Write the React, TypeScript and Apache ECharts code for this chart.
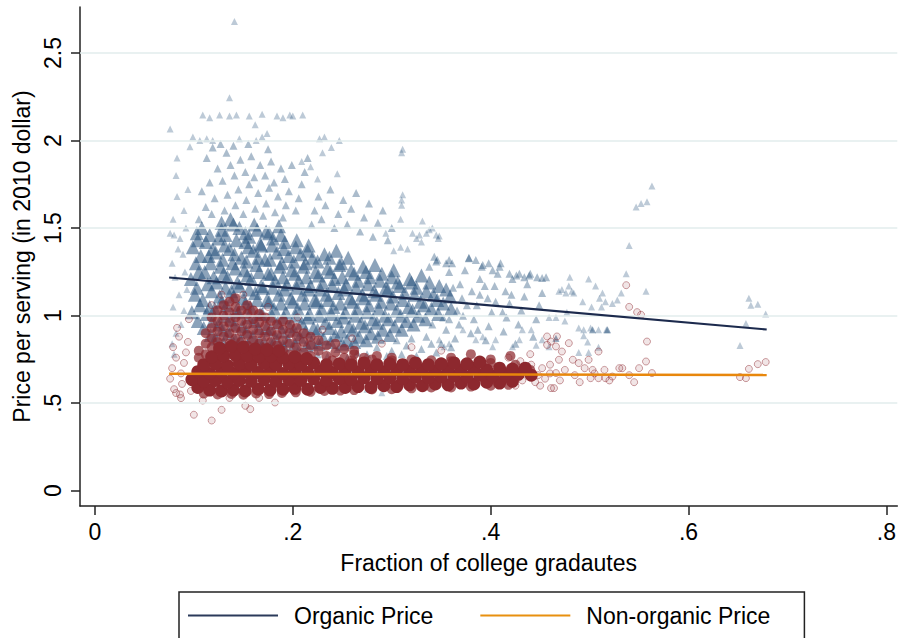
import React, { useEffect, useRef } from "react";
import * as echarts from "echarts";

// ---- Data ----
const xTicks = [0, 0.2, 0.4, 0.6, 0.8];
const yTicks = [0, 0.5, 1, 1.5, 2, 2.5];
const gridValues = [0.5, 1, 1.5, 2, 2.5];

const organicFit = [[0.075, 1.218], [0.679, 0.921]];
const nonOrganicFit = [[0.075, 0.668], [0.679, 0.661]];

// organic (triangles): dense core, first layer
const organicCore = [
  [0.098,1.02],[0.101,1.12],[0.097,1.21],[0.102,1.30],[0.099,1.39],[0.103,1.47],
  [0.110,0.93],[0.113,1.01],[0.109,1.09],[0.114,1.18],[0.111,1.25],[0.115,1.34],[0.112,1.42],[0.108,1.50],
  [0.122,0.87],[0.125,0.95],[0.121,1.04],[0.126,1.11],[0.123,1.19],[0.127,1.28],[0.122,1.36],[0.125,1.44],[0.128,1.53],
  [0.135,0.90],[0.137,0.98],[0.133,1.06],[0.138,1.14],[0.134,1.22],[0.139,1.30],[0.136,1.38],[0.132,1.46],[0.137,1.55],
  [0.147,0.86],[0.149,0.94],[0.145,1.02],[0.150,1.10],[0.146,1.17],[0.151,1.26],[0.148,1.33],[0.152,1.42],[0.146,1.50],
  [0.159,0.88],[0.161,0.97],[0.157,1.05],[0.162,1.13],[0.158,1.21],[0.163,1.29],[0.160,1.37],[0.156,1.45],[0.161,1.52],
  [0.171,0.85],[0.173,0.93],[0.169,1.01],[0.174,1.09],[0.170,1.16],[0.175,1.24],[0.172,1.32],[0.168,1.40],[0.173,1.48],
  [0.183,0.87],[0.185,0.96],[0.181,1.04],[0.186,1.12],[0.182,1.20],[0.187,1.28],[0.184,1.36],[0.180,1.44],[0.186,1.51],
  [0.195,0.86],[0.197,0.94],[0.193,1.02],[0.198,1.10],[0.194,1.18],[0.199,1.26],[0.196,1.34],[0.192,1.42],
  [0.207,0.88],[0.209,0.96],[0.205,1.04],[0.210,1.12],[0.206,1.20],[0.211,1.28],[0.208,1.35],[0.204,1.43],
  [0.219,0.85],[0.221,0.93],[0.217,1.01],[0.222,1.09],[0.218,1.17],[0.223,1.25],[0.220,1.33],[0.216,1.40],
  [0.231,0.87],[0.233,0.96],[0.229,1.04],[0.234,1.12],[0.230,1.19],[0.235,1.27],[0.232,1.35],
  [0.243,0.89],[0.245,0.97],[0.241,1.05],[0.246,1.13],[0.242,1.21],[0.247,1.29],[0.244,1.37],
  [0.255,0.86],[0.257,0.94],[0.253,1.02],[0.258,1.10],[0.254,1.18],[0.259,1.26],[0.256,1.33],
  [0.267,0.88],[0.269,0.96],[0.265,1.04],[0.270,1.12],[0.266,1.20],[0.271,1.28],
  [0.279,0.90],[0.281,0.98],[0.277,1.06],[0.282,1.14],[0.278,1.22],[0.283,1.29],
  [0.291,0.92],[0.293,1.00],[0.289,1.08],[0.294,1.16],[0.290,1.24],
  [0.303,0.94],[0.305,1.03],[0.301,1.11],[0.306,1.19],[0.302,1.26],
  [0.315,0.97],[0.317,1.05],[0.313,1.13],[0.318,1.21],
  [0.327,1.00],[0.329,1.08],[0.325,1.16],[0.330,1.23],
  [0.340,1.04],[0.342,1.12],[0.338,1.19],
  [0.352,1.07],[0.355,1.15]
];

// organic: dense core, second (staggered) layer
const organicCore2 = [
  [0.104,0.97],[0.106,1.06],[0.103,1.16],[0.105,1.25],[0.107,1.34],[0.104,1.43],
  [0.117,0.89],[0.119,0.97],[0.116,1.05],[0.118,1.14],[0.120,1.22],[0.117,1.30],[0.119,1.38],[0.116,1.46],
  [0.130,0.84],[0.129,0.92],[0.131,1.00],[0.128,1.08],[0.132,1.16],[0.130,1.24],[0.129,1.32],[0.131,1.40],[0.128,1.49],
  [0.142,0.86],[0.141,0.95],[0.143,1.03],[0.140,1.11],[0.144,1.19],[0.142,1.27],[0.141,1.35],[0.143,1.43],[0.140,1.52],
  [0.154,0.83],[0.153,0.91],[0.155,0.99],[0.152,1.07],[0.156,1.15],[0.154,1.23],[0.153,1.31],[0.155,1.39],[0.152,1.47],
  [0.166,0.85],[0.165,0.93],[0.167,1.01],[0.164,1.09],[0.168,1.17],[0.166,1.25],[0.165,1.33],[0.167,1.41],[0.164,1.49],
  [0.178,0.84],[0.177,0.92],[0.179,1.00],[0.176,1.08],[0.180,1.16],[0.178,1.24],[0.177,1.32],[0.179,1.40],[0.176,1.47],
  [0.190,0.83],[0.189,0.91],[0.191,0.99],[0.188,1.07],[0.192,1.15],[0.190,1.22],[0.189,1.30],[0.191,1.38],[0.188,1.46],
  [0.202,0.84],[0.201,0.92],[0.203,1.00],[0.200,1.08],[0.204,1.16],[0.202,1.24],[0.201,1.31],[0.203,1.39],
  [0.214,0.83],[0.213,0.91],[0.215,0.99],[0.212,1.07],[0.216,1.15],[0.214,1.22],[0.213,1.30],[0.215,1.37],
  [0.226,0.84],[0.225,0.92],[0.227,1.00],[0.224,1.08],[0.228,1.15],[0.226,1.23],[0.225,1.31],
  [0.238,0.85],[0.237,0.93],[0.239,1.01],[0.236,1.09],[0.240,1.17],[0.238,1.25],[0.237,1.33],
  [0.250,0.84],[0.249,0.91],[0.251,0.99],[0.248,1.07],[0.252,1.15],[0.250,1.22],[0.249,1.30],
  [0.262,0.85],[0.261,0.92],[0.263,1.00],[0.260,1.08],[0.264,1.16],[0.262,1.24],
  [0.274,0.86],[0.273,0.94],[0.275,1.02],[0.272,1.10],[0.276,1.18],[0.274,1.25],
  [0.286,0.88],[0.285,0.96],[0.287,1.04],[0.284,1.12],[0.288,1.20],
  [0.298,0.89],[0.297,0.98],[0.299,1.07],[0.296,1.15],[0.300,1.22],
  [0.310,0.92],[0.309,1.00],[0.311,1.09],[0.308,1.17],
  [0.322,0.95],[0.321,1.03],[0.323,1.12],[0.320,1.19],
  [0.334,0.98],[0.333,1.06],[0.335,1.14],
  [0.347,1.01],[0.346,1.09],[0.348,1.17],
  [0.360,1.04],[0.359,1.11]
];

// organic: medium-density zones
const organicMid = [
  [0.105,1.55],[0.112,1.62],[0.108,1.71],[0.118,1.58],[0.121,1.67],[0.116,1.76],[0.124,1.84],[0.113,1.90],[0.119,1.96],[0.127,1.98],
  [0.131,1.60],[0.134,1.69],[0.129,1.77],[0.137,1.86],[0.133,1.93],[0.140,1.97],[0.142,1.63],[0.145,1.72],[0.141,1.80],[0.147,1.89],
  [0.150,1.58],[0.153,1.66],[0.156,1.75],[0.152,1.82],[0.158,1.91],[0.155,1.98],[0.162,1.61],[0.165,1.70],[0.161,1.79],[0.167,1.86],
  [0.170,1.57],[0.173,1.64],[0.176,1.73],[0.172,1.80],[0.178,1.88],[0.175,1.95],[0.182,1.59],[0.185,1.68],[0.181,1.76],[0.188,1.84],
  [0.190,1.56],[0.193,1.63],[0.196,1.71],[0.192,1.78],[0.199,1.86],[0.203,1.60],[0.206,1.67],[0.209,1.75],[0.212,1.82],[0.215,1.90],
  [0.219,1.52],[0.222,1.60],[0.226,1.68],[0.229,1.55],[0.233,1.63],[0.238,1.72],[0.242,1.50],[0.246,1.58],[0.251,1.66],[0.255,1.52],
  [0.259,1.61],[0.264,1.70],[0.268,1.48],[0.272,1.56],[0.277,1.64],[0.281,1.45],[0.286,1.53],[0.291,1.60],[0.296,1.43],[0.300,1.50],
  [0.335,0.88],[0.341,0.95],[0.338,1.28],[0.346,1.32],[0.350,0.84],[0.355,0.92],[0.352,0.99],[0.358,1.25],[0.361,1.30],[0.364,0.87],
  [0.368,0.95],[0.366,1.03],[0.371,1.10],[0.369,1.18],[0.374,1.26],[0.378,1.33],[0.380,0.90],[0.383,0.98],[0.386,1.06],[0.381,1.14],
  [0.389,1.21],[0.392,1.29],[0.395,0.86],[0.398,0.94],[0.401,1.02],[0.397,1.10],[0.404,1.17],[0.407,1.24],[0.410,1.30],[0.413,0.91],
  [0.416,0.99],[0.419,1.07],[0.415,1.14],[0.422,1.21],[0.425,0.84],[0.428,0.95],[0.431,1.03],[0.434,1.11],[0.437,1.18],[0.440,1.24],
  [0.443,0.88],[0.446,0.98],[0.449,1.06],[0.452,1.13],[0.456,1.22],
  [0.205,0.80],[0.225,0.78],[0.245,0.81],[0.265,0.79],[0.285,0.82],[0.300,0.80],[0.315,0.83],[0.330,0.81],[0.345,0.79],[0.360,0.82],
  [0.215,0.76],[0.235,0.77],[0.255,0.76],[0.275,0.78],[0.295,0.77],[0.310,0.78],[0.325,0.77],[0.340,0.84],[0.320,0.87],[0.305,0.86],
  [0.378,1.328],[0.385,1.318],[0.398,1.30],[0.391,1.28],[0.409,1.28],[0.402,1.26],[0.419,1.24],[0.358,1.318],[0.355,1.30],[0.343,1.337],
  [0.345,1.31],[0.447,1.22],[0.452,1.215],[0.439,1.23],[0.434,1.22],[0.429,1.24],[0.426,1.23],
  [0.372,1.00],[0.389,1.12],[0.405,1.08],[0.362,1.16],[0.394,1.17],[0.412,1.02],[0.376,1.06],[0.358,0.98],[0.387,0.92],[0.421,1.12]
];

// organic: sparse outer points
const organicSparse = [
  [0.459,0.99],[0.466,0.99],[0.469,1.14],[0.472,1.15],[0.476,1.13],[0.477,1.02],[0.479,1.17],[0.480,1.22],[0.482,1.14],[0.484,1.13],
  [0.466,0.87],[0.475,0.97],[0.489,0.79],[0.493,1.08],[0.494,0.92],[0.498,0.85],[0.499,1.21],[0.501,0.93],[0.502,1.05],[0.503,0.92],
  [0.506,1.17],[0.509,0.82],[0.510,1.10],[0.512,1.05],[0.513,1.13],[0.516,1.08],[0.517,0.92],[0.518,0.92],[0.523,1.07],[0.528,1.09],
  [0.532,1.13],[0.537,1.24],[0.540,1.40],[0.547,1.62],[0.552,1.64],[0.558,1.65],[0.563,1.74],[0.557,1.14],[0.499,0.79],[0.489,0.93],
  [0.652,0.83],[0.658,0.955],[0.661,1.10],[0.663,1.06],[0.670,1.065],[0.678,1.01],
  [0.141,2.68],[0.136,2.245],[0.076,2.066],
  [0.109,2.146],[0.116,2.13],[0.126,2.146],[0.136,2.14],[0.143,2.146],[0.156,2.14],[0.169,2.15],[0.184,2.14],[0.190,2.13],[0.197,2.146],
  [0.200,2.14],[0.210,2.146],[0.162,2.09],[0.174,2.04],
  [0.099,2.02],[0.106,2.00],[0.113,2.01],[0.119,2.00],[0.146,2.01],[0.163,2.00],[0.169,2.02],[0.227,2.01],[0.232,2.02],[0.247,2.00],
  [0.239,1.96],[0.311,1.95],[0.310,1.93],[0.310,1.63],[0.309,1.55],[0.245,1.81],[0.209,1.88],[0.218,1.85],[0.225,1.78],[0.230,1.93],
  [0.311,1.69],[0.310,1.66],[0.331,1.54],[0.321,1.47],[0.328,1.46],[0.338,1.49],[0.341,1.50],[0.345,1.46],[0.348,1.455],[0.330,1.42],
  [0.302,1.37],[0.309,1.39],[0.316,1.38],[0.294,1.47],[0.325,1.44],[0.335,1.47],[0.347,1.44],
  [0.076,1.47],[0.079,1.55],[0.082,1.80],[0.083,1.90],[0.083,1.68],[0.080,1.46],[0.086,1.44],[0.084,1.38],[0.078,1.30],[0.081,1.22],
  [0.085,1.12],[0.079,1.05],[0.087,0.95],[0.082,0.90],[0.080,0.78],[0.078,0.84],[0.090,1.60],[0.092,1.50],[0.094,1.72],[0.096,1.965],
  [0.089,1.35],[0.091,1.25],[0.093,1.15],[0.090,1.03],
  [0.275,0.58],[0.290,0.56],
  [0.503,0.919],[0.509,0.919],[0.518,0.919],[0.494,0.885],[0.466,0.871],[0.459,0.823],[0.452,0.862],[0.446,0.831],[0.441,0.919],[0.432,0.919],
  [0.429,0.862],[0.422,0.823],[0.405,0.862],[0.402,0.823],[0.392,0.879],[0.385,0.862],[0.372,0.919],[0.358,0.84],[0.353,0.823],[0.348,0.862]
];

// non-organic (circles): dense band
const nonOrganicCore = [
  [0.104,0.59],[0.116,0.575],[0.128,0.57],[0.140,0.575],[0.152,0.57],[0.165,0.58],[0.177,0.575],[0.190,0.58],[0.202,0.585],[0.215,0.58],
  [0.228,0.59],[0.240,0.585],[0.253,0.59],[0.266,0.595],[0.279,0.59],[0.292,0.60],[0.305,0.595],[0.318,0.605],[0.331,0.60],[0.344,0.61],
  [0.357,0.605],[0.370,0.615],[0.383,0.61],[0.396,0.62],[0.409,0.615],[0.422,0.625],
  [0.098,0.635],[0.110,0.625],[0.122,0.63],[0.134,0.62],[0.146,0.63],[0.158,0.625],[0.171,0.635],[0.183,0.625],[0.196,0.635],[0.208,0.63],
  [0.221,0.64],[0.234,0.63],[0.247,0.64],[0.259,0.635],[0.272,0.645],[0.285,0.64],[0.298,0.645],[0.311,0.64],[0.324,0.65],[0.337,0.645],
  [0.350,0.65],[0.363,0.655],[0.376,0.65],[0.389,0.66],[0.402,0.655],[0.415,0.66],[0.428,0.665],[0.441,0.66],
  [0.104,0.68],[0.116,0.67],[0.128,0.675],[0.140,0.67],[0.152,0.68],[0.165,0.675],[0.177,0.68],[0.190,0.67],[0.202,0.68],[0.215,0.675],
  [0.228,0.685],[0.240,0.675],[0.253,0.685],[0.266,0.68],[0.279,0.69],[0.292,0.68],[0.305,0.69],[0.318,0.685],[0.331,0.69],[0.344,0.685],
  [0.357,0.695],[0.370,0.69],[0.383,0.70],[0.396,0.69],[0.409,0.70],[0.422,0.695],[0.435,0.70],
  [0.110,0.72],[0.122,0.725],[0.134,0.715],[0.146,0.725],[0.158,0.72],[0.171,0.73],[0.183,0.72],[0.196,0.725],[0.208,0.72],[0.221,0.73],
  [0.234,0.72],[0.247,0.725],[0.259,0.72],[0.272,0.73],[0.285,0.72],[0.298,0.725],[0.311,0.72],[0.324,0.73],[0.337,0.72],[0.350,0.725],
  [0.363,0.73],[0.376,0.725],[0.389,0.735],
  [0.118,0.765],[0.130,0.77],[0.142,0.775],[0.154,0.77],[0.166,0.765],[0.178,0.77],[0.190,0.76],[0.202,0.765],[0.214,0.755],
  [0.126,0.815],[0.138,0.825],[0.150,0.82],[0.162,0.81],[0.174,0.805],[0.186,0.80]
];

// non-organic: the cloud above the band
const nonOrganicMid = [
  [0.105,0.76],[0.105,0.80],[0.112,0.78],[0.112,0.84],[0.112,0.90],
  [0.118,0.77],[0.118,0.82],[0.118,0.87],[0.118,0.93],[0.118,0.99],
  [0.124,0.79],[0.124,0.85],[0.124,0.91],[0.124,0.97],[0.124,1.03],
  [0.130,0.76],[0.130,0.81],[0.130,0.88],[0.130,0.94],[0.130,1.00],[0.130,1.06],
  [0.136,0.78],[0.136,0.84],[0.136,0.90],[0.136,0.96],[0.136,1.02],[0.136,1.08],
  [0.142,0.76],[0.142,0.82],[0.142,0.87],[0.142,0.93],[0.142,0.99],[0.142,1.05],[0.142,1.10],
  [0.148,0.79],[0.148,0.85],[0.148,0.91],[0.148,0.97],[0.148,1.03],
  [0.154,0.77],[0.154,0.83],[0.154,0.89],[0.154,0.95],[0.154,1.01],[0.154,1.06],
  [0.160,0.80],[0.160,0.86],[0.160,0.92],[0.160,0.98],[0.160,1.03],
  [0.166,0.78],[0.166,0.84],[0.166,0.90],[0.166,0.96],[0.166,1.01],
  [0.172,0.76],[0.172,0.82],[0.172,0.88],[0.172,0.94],[0.172,0.99],
  [0.178,0.79],[0.178,0.85],[0.178,0.91],[0.178,0.97],
  [0.184,0.77],[0.184,0.83],[0.184,0.89],[0.184,0.95],
  [0.190,0.80],[0.190,0.86],[0.190,0.92],[0.190,0.97],
  [0.197,0.78],[0.197,0.84],[0.197,0.90],[0.197,0.95],
  [0.204,0.76],[0.204,0.82],[0.204,0.88],[0.204,0.93],
  [0.211,0.79],[0.211,0.85],[0.211,0.90],
  [0.218,0.77],[0.218,0.83],[0.218,0.88],
  [0.226,0.80],[0.226,0.86],[0.234,0.77],[0.234,0.83],[0.243,0.79],[0.243,0.84],
  [0.252,0.76],[0.252,0.81],[0.262,0.78],[0.262,0.80],[0.272,0.76],[0.285,0.77],[0.300,0.76],
  [0.360,0.76],[0.380,0.78],[0.400,0.75],[0.420,0.77],
  [0.110,0.555],[0.124,0.55],[0.138,0.553],[0.150,0.548],[0.163,0.556],[0.176,0.552],[0.189,0.558],[0.203,0.562],[0.218,0.565],[0.232,0.57],
  [0.248,0.572],[0.262,0.575],[0.280,0.578],[0.300,0.58],[0.320,0.585],[0.340,0.59],[0.360,0.59],[0.380,0.595],[0.400,0.60],[0.418,0.605],
  [0.240,0.745],[0.260,0.745],[0.280,0.75],[0.300,0.745],[0.320,0.75],[0.340,0.745],[0.360,0.74],[0.400,0.73],[0.425,0.72],[0.440,0.69]
];

// non-organic: sparse outer points
const nonOrganicSparse = [
  [0.076,0.64],[0.078,0.70],[0.080,0.58],[0.082,0.76],[0.079,0.82],[0.085,0.88],[0.083,0.93],[0.088,0.61],[0.087,0.67],[0.090,0.73],
  [0.092,0.79],[0.094,0.85],[0.097,0.57],[0.086,0.55],[0.095,0.98],
  [0.100,0.434],[0.118,0.401],[0.128,0.462],[0.152,0.485],[0.157,0.466],[0.109,0.515],[0.087,0.529],[0.082,0.558],[0.182,0.504],
  [0.136,0.53],[0.166,0.53],
  [0.537,1.174],[0.540,1.05],[0.548,1.02],[0.552,1.005],[0.558,0.852],[0.557,0.738],[0.563,0.672],
  [0.652,0.649],[0.658,0.643],[0.661,0.696],[0.670,0.723],[0.678,0.735],
  [0.509,0.795],[0.499,0.748],[0.503,0.69],[0.509,0.643],[0.523,0.652],[0.530,0.70],[0.533,0.70],[0.516,0.643],[0.501,0.643],[0.489,0.729],
  [0.483,0.748],[0.479,0.843],[0.472,0.795],[0.469,0.748],[0.466,0.672],[0.464,0.586],[0.461,0.586],
  [0.457,0.881],[0.461,0.852],[0.466,0.824],[0.467,0.881],[0.457,0.833],
  [0.425,0.60],[0.432,0.63],[0.438,0.68],[0.445,0.62],[0.448,0.66],[0.452,0.70],[0.455,0.64],[0.441,0.72],[0.430,0.74],[0.418,0.76],
  [0.450,0.60],[0.460,0.67],[0.470,0.63],[0.475,0.69],[0.485,0.66],[0.490,0.62],[0.495,0.70],[0.505,0.67],[0.515,0.69],[0.520,0.63],
  [0.540,0.66],[0.550,0.70],[0.545,0.62],[0.460,0.72],[0.440,0.78],
  [0.118,1.06],[0.128,1.12],[0.150,1.12],[0.175,1.05],[0.205,0.99],[0.230,0.92],[0.260,0.87],[0.290,0.84],[0.320,0.82],[0.350,0.80]
];

const FONT = "'Liberation Sans', Arial, Helvetica, sans-serif";
const BLUE = "35,78,122";
const RED = "141,40,46";
const FS = 23;

function tickText(v: number): string {
  if (v === 0) return "0";
  return String(v).replace(/^0\./, ".");
}

export default function App() {
  const ref = useRef<HTMLDivElement>(null);
  useEffect(() => {
    if (!ref.current) return;
    const chart = echarts.init(ref.current, null, { renderer: "svg" });
    chart.setOption({
      animation: false,
      backgroundColor: "#ffffff",
      textStyle: { fontFamily: FONT },
      grid: { left: 80, top: 7, right: 0, bottom: 132 },
      xAxis: {
        type: "value",
        min: -0.0151,
        max: 0.811,
        name: "Fraction of college gradautes",
        nameLocation: "middle",
        nameGap: 45,
        nameTextStyle: { fontSize: FS, color: "#000", fontFamily: FONT },
        axisLine: { show: true, onZero: false, lineStyle: { color: "#222", width: 1.5 } },
        axisTick: { show: true, customValues: xTicks, length: 9, lineStyle: { color: "#222", width: 1.5 } },
        axisLabel: { customValues: xTicks, formatter: tickText, fontSize: FS, color: "#000", margin: 14, fontFamily: FONT },
        splitLine: { show: false },
      },
      yAxis: {
        type: "value",
        min: -0.0873,
        max: 2.763,
        name: "Price per serving (in 2010 dollar)",
        nameLocation: "middle",
        nameGap: 43,
        nameTextStyle: { fontSize: FS, color: "#000", fontFamily: FONT },
        axisLine: { show: true, onZero: false, lineStyle: { color: "#222", width: 1.5 } },
        axisTick: { show: true, customValues: yTicks, length: 9, lineStyle: { color: "#222", width: 1.5 } },
        axisLabel: { customValues: yTicks, formatter: tickText, rotate: 90, fontSize: FS, color: "#000", margin: 16, fontFamily: FONT },
        splitLine: { show: false },
      },
      legend: {
        left: 179,
        top: 592,
        data: [
          { name: "Organic Price", icon: "rect" },
          { name: "Non-organic Price", icon: "rect" },
        ],
        itemWidth: 90,
        itemHeight: 2,
        itemGap: 47,
        padding: [12, 34, 20, 9],
        borderColor: "#222",
        borderWidth: 1.5,
        textStyle: { fontSize: FS, color: "#000", fontFamily: FONT, padding: [0, 0, 0, 11] },
      },
      series: [
        {
          name: "grid",
          type: "line",
          data: [],
          silent: true,
          markLine: {
            silent: true,
            symbol: "none",
            label: { show: false },
            lineStyle: { color: "#e2ecec", width: 1.5, type: "solid" },
            data: gridValues.map((v) => ({ yAxis: v })),
          },
        },
        {
          name: "Organic sparse",
          type: "scatter",
          symbol: "triangle",
          symbolSize: 7,
          data: organicSparse,
          itemStyle: { color: `rgba(${BLUE},0.3)`, opacity: 1, borderWidth: 0 },
        },
        {
          name: "Organic mid",
          type: "scatter",
          symbol: "triangle",
          symbolSize: 8,
          data: organicMid,
          itemStyle: { color: `rgba(${BLUE},0.38)`, opacity: 1, borderWidth: 0 },
        },
        {
          name: "Organic core",
          type: "scatter",
          symbol: "triangle",
          symbolSize: 14,
          data: organicCore,
          itemStyle: { color: `rgba(${BLUE},0.52)`, opacity: 1, borderWidth: 0 },
        },
        {
          name: "Organic core 2",
          type: "scatter",
          symbol: "triangle",
          symbolSize: 14,
          data: organicCore2,
          itemStyle: { color: `rgba(${BLUE},0.52)`, opacity: 1, borderWidth: 0 },
        },
        {
          name: "Non-organic sparse",
          type: "scatter",
          symbol: "circle",
          symbolSize: 7,
          data: nonOrganicSparse,
          itemStyle: { color: `rgba(${RED},0.12)`, borderColor: `rgba(${RED},0.45)`, borderWidth: 1, opacity: 1 },
        },
        {
          name: "Non-organic mid",
          type: "scatter",
          symbol: "circle",
          symbolSize: 10,
          data: nonOrganicMid,
          itemStyle: { color: `rgba(${RED},0.72)`, opacity: 1, borderWidth: 0 },
        },
        {
          name: "Non-organic core",
          type: "scatter",
          symbol: "circle",
          symbolSize: 13,
          data: nonOrganicCore,
          itemStyle: { color: `rgb(${RED})`, opacity: 1, borderWidth: 0 },
        },
        {
          name: "Organic Price",
          type: "line",
          data: organicFit,
          symbol: "none",
          lineStyle: { color: "#1c2a4d", width: 2.2 },
          itemStyle: { color: "#2b3a5a" },
          z: 5,
        },
        {
          name: "Non-organic Price",
          type: "line",
          data: nonOrganicFit,
          symbol: "none",
          lineStyle: { color: "#e8870c", width: 2.6 },
          itemStyle: { color: "#e8900f" },
          z: 5,
        },
      ],
    });
    return () => chart.dispose();
  }, []);
  return (
    <div
      ref={ref}
      style={{ position: "fixed", left: 0, top: 0, width: 899, height: 638, background: "#fff" }}
    />
  );
}
